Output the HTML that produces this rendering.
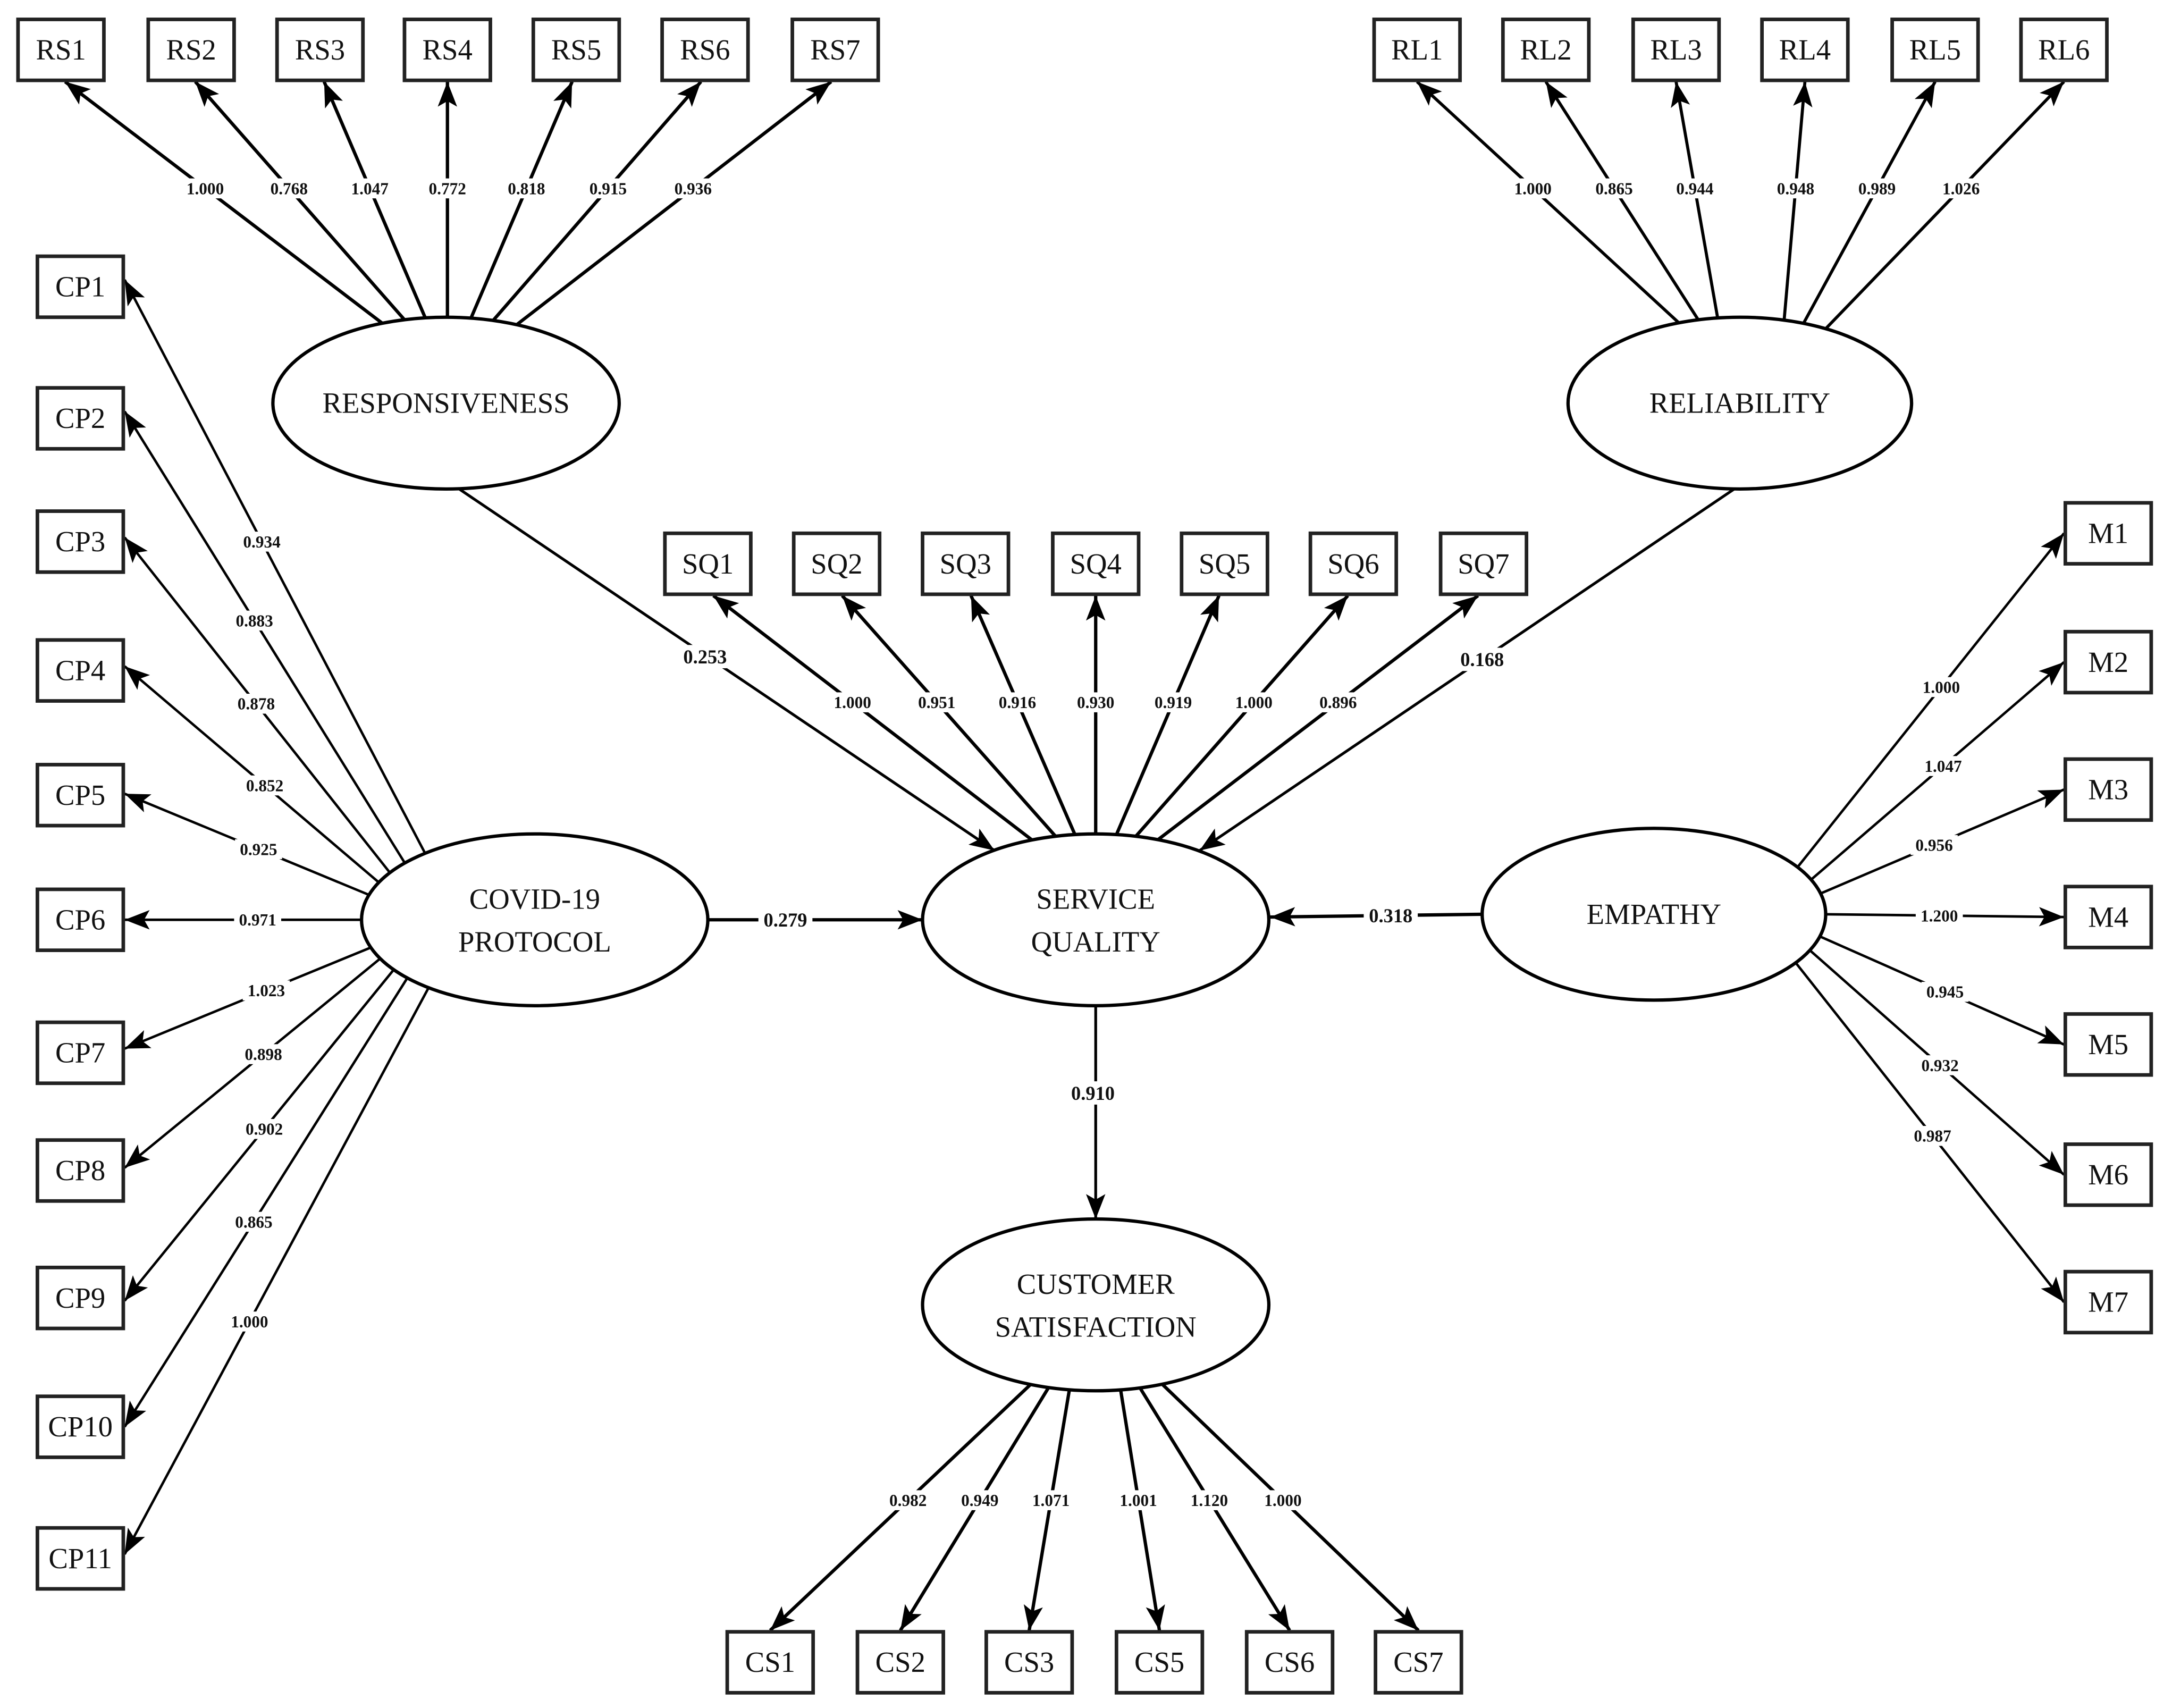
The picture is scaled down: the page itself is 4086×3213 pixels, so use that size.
<!DOCTYPE html>
<html><head><meta charset="utf-8">
<style>
html,body{margin:0;padding:0;background:#fff;}
svg{display:block;}
text{font-family:"Liberation Serif",serif;fill:#111;}
</style></head>
<body>
<svg id="s" width="4086" height="3213" viewBox="0 0 1568 1233" xmlns="http://www.w3.org/2000/svg">
<defs>
<marker id="a" markerUnits="userSpaceOnUse" markerWidth="20" markerHeight="16" viewBox="0 0 20 16" refX="18" refY="8" orient="auto">
<path d="M0,1 L18,8 L0,15 L4,8 Z" fill="#000"/>
</marker>
</defs>
<g id="g"></g>
</svg>
<script>
var g=document.getElementById('g'),out='';
function ln(x1,y1,x2,y2,w,arrow){out+='<line x1="'+x1+'" y1="'+y1+'" x2="'+x2+'" y2="'+y2+'" stroke="#000" stroke-width="'+w+'"'+(arrow?' marker-end="url(#a)"':'')+'/>';}
function lab(x,y,t,fs,bold){var w=t.length*fs*0.5+4;out+='<rect x="'+(x-w/2)+'" y="'+(y-fs*0.6)+'" width="'+w+'" height="'+(fs*1.2)+'" fill="#fff"/>';out+='<text x="'+x+'" y="'+(y+fs*0.35)+'" font-size="'+fs+'" text-anchor="middle"'+(bold?' font-weight="bold"':'')+'>'+t+'</text>';}
function box(cx,cy,t){out+='<rect x="'+(cx-31)+'" y="'+(cy-22)+'" width="62" height="44" fill="#fff" stroke="#222" stroke-width="2.6"/>';out+='<text x="'+cx+'" y="'+(cy+7)+'" font-size="21" text-anchor="middle">'+t+'</text>';}
var labels=[],lns=[];
function topPt(e,x,s){var d=(x-e[0])/e[2];return [x,e[1]+s*e[3]*Math.sqrt(Math.max(0,1-d*d))];}
function sidePt(e,y,s){var d=(y-e[1])/e[3];return [e[0]+s*e[2]*Math.sqrt(Math.max(0,1-d*d)),y];}
function fan(p1,p2,lx,ly,t,w){lns.push([p1[0],p1[1],p2[0],p2[1],w,true]);labels.push([lx,ly,t,12,true]);}
var RS=[322,291,125,62],RL=[1256,291,124,62],CV=[386,664,125,62],SQ=[791,664,125,62],EM=[1194,660,124,62],CS=[791,942,125,62];
var rsx=[44,138,231,323,416,509,603],rsS=[276,292,307,323,340,356,373],rsL=['1.000','0.768','1.047','0.772','0.818','0.915','0.936'];
for(var i=0;i<7;i++){var p=topPt(RS,rsS[i],-1),q=[rsx[i]+(i<3?3:(i>3?-3:0)),59];var t=(136-p[1])/(q[1]-p[1]);fan(p,q,p[0]+(q[0]-p[0])*t,136,rsL[i],2.4);}
var rlx=[1023,1116,1210,1303,1397,1490],rlS=[1212,1226,1240,1288,1302,1318],rlL=['1.000','0.865','0.944','0.948','0.989','1.026'];
for(var i=0;i<6;i++){var p=topPt(RL,rlS[i],-1),q=[rlx[i],59];var t=(136-p[1])/(q[1]-p[1]);fan(p,q,p[0]+(q[0]-p[0])*t,136,rlL[i],2.2);}
var sqx=[511,604,697,791,884,977,1071],sqS=[745,762,776,791,806,820,836],sqL=['1.000','0.951','0.916','0.930','0.919','1.000','0.896'];
for(var i=0;i<7;i++){var p=topPt(SQ,sqS[i],-1),q=[sqx[i]+(i<3?4:(i>3?-4:0)),430];var t=(507-p[1])/(q[1]-p[1]);fan(p,q,p[0]+(q[0]-p[0])*t,507,sqL[i],2.4);}
var csx=[556,650,743,837,931,1024],csS=[744,757,772,809,823,839],csL=['0.982','0.949','1.071','1.001','1.120','1.000'];
for(var i=0;i<6;i++){var p=topPt(CS,csS[i],1),q=[csx[i],1177];var t=(1083-p[1])/(q[1]-p[1]);fan(p,q,p[0]+(q[0]-p[0])*t,1083,csL[i],2.4);}
var cpy=[207,302,391,484,574,664,760,845,937,1030,1125],cpS=[616,623,630,637,646,664,684,692,700,706,713],
cpE=[202,297,388,481,573,664,757,843,939,1030,1122],
cpL=[['0.934',391],['0.883',448],['0.878',508],['0.852',567],['0.925',613],['0.971',664],['1.023',715],['0.898',761],['0.902',815],['0.865',882],['1.000',954]];
for(var i=0;i<11;i++){var p=sidePt(CV,cpS[i],-1),q=[90,cpE[i]];var ly=cpL[i][1];var t=(ly-p[1])/(q[1]-p[1]);if(i==5){t=(p[0]-186)/(p[0]-90);}var lx=p[0]+(q[0]-p[0])*t;lns.push([p[0],p[1],q[0],q[1],1.8,true]);labels.push([lx,ly,cpL[i][0],12,true]);}
var my=[385,478,570,662,754,848,940],mS=[626,635,645,660,676,686,695],
mL=[['1.000',496],['1.047',553],['0.956',610],['1.200',661],['0.945',716],['0.932',769],['0.987',820]];
for(var i=0;i<7;i++){var p=sidePt(EM,mS[i],1),q=[1490,my[i]];var ly=mL[i][1];var t=(ly-p[1])/(q[1]-p[1]);if(i==3){t=(1400-p[0])/(q[0]-p[0]);}var lx=p[0]+(q[0]-p[0])*t;lns.push([p[0],p[1],q[0],q[1],1.8,true]);labels.push([lx,ly,mL[i][0],12,true]);}
lns.push([330,352,718,614,2,true]);labels.push([509,474,'0.253',14,true]);
lns.push([1252,353,866,614,2,true]);labels.push([1070,476,'0.168',14,true]);
lns.push([511,664,666,664,2.4,true]);labels.push([567,664,'0.279',14,true]);
lns.push([1070,660,917,662,2.4,true]);labels.push([1004,661,'0.318',14,true]);
lns.push([791,727,791,880,2,true]);labels.push([789,789,'0.910',14,true]);
lns.forEach(function(l){ln(l[0],l[1],l[2],l[3],l[4],l[5]);});
labels.forEach(function(l){lab(l[0],l[1],l[2],l[3],l[4]);});
function drawE(e,lines){out+='<ellipse cx="'+e[0]+'" cy="'+e[1]+'" rx="'+e[2]+'" ry="'+e[3]+'" fill="#fff" stroke="#000" stroke-width="2.4"/>';
 if(lines.length==1)out+='<text x="'+e[0]+'" y="'+(e[1]+7)+'" font-size="21" text-anchor="middle">'+lines[0]+'</text>';
 else {out+='<text x="'+e[0]+'" y="'+(e[1]-8)+'" font-size="21" text-anchor="middle">'+lines[0]+'</text>';out+='<text x="'+e[0]+'" y="'+(e[1]+23)+'" font-size="21" text-anchor="middle">'+lines[1]+'</text>';}}
drawE(RS,['RESPONSIVENESS']);drawE(RL,['RELIABILITY']);drawE(CV,['COVID-19','PROTOCOL']);drawE(SQ,['SERVICE','QUALITY']);drawE(EM,['EMPATHY']);drawE(CS,['CUSTOMER','SATISFACTION']);
for(var i=0;i<7;i++)box(rsx[i],36,'RS'+(i+1));
for(var i=0;i<6;i++)box(rlx[i],36,'RL'+(i+1));
for(var i=0;i<7;i++)box(sqx[i],407,'SQ'+(i+1));
var csN=['CS1','CS2','CS3','CS5','CS6','CS7'];for(var i=0;i<6;i++)box(csx[i],1200,csN[i]);
for(var i=0;i<11;i++)box(58,cpy[i],'CP'+(i+1));
for(var i=0;i<7;i++)box(1522,my[i],'M'+(i+1));
g.innerHTML=out;
</script>
</body></html>
